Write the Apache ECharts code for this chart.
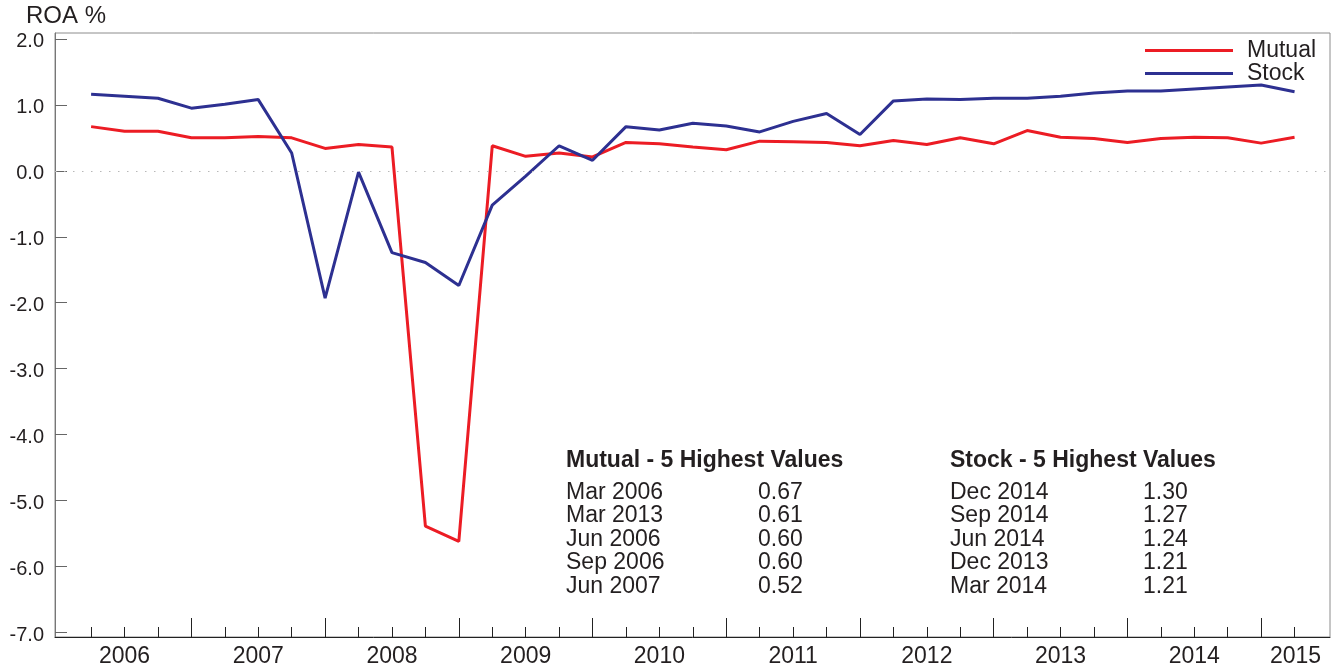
<!DOCTYPE html>
<html>
<head>
<meta charset="utf-8">
<title>ROA %</title>
<script src="https://cdn.jsdelivr.net/npm/echarts@6/dist/echarts.min.js"></script>
<style>
  html, body { margin: 0; padding: 0; background: #fff; }
  #chart { width: 1333px; height: 670px; }
</style>
</head>
<body>
<div id="chart"></div>
<script>
// Quarterly return on assets (%), Mar 2006 - Mar 2015
const months = ['Mar', 'Jun', 'Sep', 'Dec'];
const years = ['2006', '2007', '2008', '2009', '2010', '2011', '2012', '2013', '2014', '2015'];
const seriesNames = ['Mutual', 'Stock'];

const mutual = [0.67, 0.60, 0.60, 0.50, 0.50, 0.52, 0.50, 0.34, 0.40, 0.36,
  -5.39, -5.62, 0.38, 0.22, 0.27, 0.21, 0.43, 0.41, 0.36, 0.32,
  0.45, 0.44, 0.43, 0.38, 0.46, 0.40, 0.50, 0.41, 0.61, 0.51,
  0.49, 0.43, 0.49, 0.51, 0.50, 0.42, 0.51];
const stock = [1.16, 1.13, 1.10, 0.95, 1.01, 1.08, 0.27, -1.93, -0.02, -1.24,
  -1.39, -1.74, -0.52, -0.08, 0.38, 0.16, 0.67, 0.62, 0.72, 0.68,
  0.59, 0.75, 0.87, 0.55, 1.06, 1.09, 1.08, 1.10, 1.10, 1.13,
  1.18, 1.21, 1.21, 1.24, 1.27, 1.30, 1.20];
const yTicks = [-7, -6, -5, -4, -3, -2, -1, 0, 1, 2];

// quarter labels, e.g. "Mar 2006"
const quarters = mutual.map((_, i) => months[i % 4] + ' ' + (2006 + Math.floor(i / 4)));

const FONT = "'Liberation Sans', Arial, Helvetica, sans-serif";
const TEXT = '#231f20';
const X_MIN = -1.08, X_MAX = 37.06;

// every quarter gets a short tick, every December a long one
const allTicks = quarters.map((_, i) => i);
const decTicks = allTicks.filter(i => i % 4 === 3);

// year labels sit in the middle of the visible part of each year
const yearPos = years.map((y, k) => {
  const a = Math.max(-1 + 4 * k, X_MIN);
  const b = Math.min(3 + 4 * k, X_MAX);
  return (a + b) / 2;
});

function top5(values) {
  return values
    .map((v, i) => ({ q: quarters[i], v: v }))
    .sort((p, q) => q.v - p.v)
    .slice(0, 5);
}

function tableGraphics(title, values, left, valueLeft) {
  const items = [{
    type: 'text', left: left, top: 449.5,
    style: { text: title, font: 'bold 23px ' + FONT, fill: TEXT }
  }];
  top5(values).forEach((row, i) => {
    const top = 480.8 + i * 23.6;
    items.push({ type: 'text', left: left, top: top,
      style: { text: row.q, font: '23px ' + FONT, fill: TEXT } });
    items.push({ type: 'text', left: valueLeft, top: top,
      style: { text: row.v.toFixed(2), font: '23px ' + FONT, fill: TEXT } });
  });
  return items;
}

const chart = echarts.init(document.getElementById('chart'), null, { renderer: 'canvas' });

chart.setOption({
  animation: false,
  backgroundColor: '#fff',
  textStyle: { fontFamily: FONT },
  grid: {
    left: 55, right: 3, top: 33, bottom: 33,
    show: true, borderColor: '#8c8c8c', borderWidth: 1
  },
  legend: {
    data: seriesNames,
    orient: 'vertical',
    left: 1145, top: 39,
    padding: 0,
    itemGap: 0,
    itemWidth: 88, itemHeight: 3,
    icon: 'rect',
    textStyle: { fontSize: 23, color: TEXT, lineHeight: 16, padding: [7, 0, 0, 9] }
  },
  xAxis: [{
    type: 'value', min: X_MIN, max: X_MAX, position: 'bottom',
    axisLine: { show: true, onZero: false, lineStyle: { color: '#222', width: 1 } },
    axisTick: { show: true, inside: true, length: 10, customValues: allTicks,
      lineStyle: { color: '#222', width: 1 } },
    axisLabel: {
      show: true, customValues: yearPos, margin: 8,
      fontSize: 23, color: TEXT, fontFamily: FONT,
      formatter: v => {
        const k = yearPos.findIndex(p => Math.abs(p - v) < 1e-6);
        return k >= 0 ? years[k] : '';
      }
    },
    splitLine: { show: false }
  }, {
    type: 'value', min: X_MIN, max: X_MAX, position: 'bottom',
    axisLine: { show: false, onZero: false },
    axisTick: { show: true, inside: true, length: 19, customValues: decTicks,
      lineStyle: { color: '#222', width: 1 } },
    axisLabel: { show: false },
    splitLine: { show: false }
  }],
  yAxis: {
    type: 'value', min: -7.07, max: 2.09,
    axisLine: { show: true, onZero: false, lineStyle: { color: '#777', width: 1 } },
    axisTick: { show: true, inside: true, length: 12, customValues: yTicks,
      lineStyle: { color: '#666', width: 1 } },
    axisLabel: {
      customValues: yTicks, margin: 11,
      fontSize: 20, color: TEXT, fontFamily: FONT,
      formatter: v => '{v|' + v.toFixed(1) + '}',
      rich: { v: { fontSize: 20, color: TEXT, fontFamily: FONT, padding: [6, 0, 0, 0] } }
    },
    splitLine: { show: false }
  },
  title: {
    text: 'ROA %', left: 26, top: 4, padding: 0,
    textStyle: { fontSize: 24, fontWeight: 'normal', color: TEXT, fontFamily: FONT }
  },
  series: [{
    name: seriesNames[0], type: 'line',
    data: mutual.map((v, i) => [i, v]),
    showSymbol: false, symbol: 'none',
    color: '#ec1c24',
    lineStyle: { color: '#ec1c24', width: 3 },
    markLine: {
      silent: true, symbol: ['none', 'none'],
      label: { show: false },
      lineStyle: { color: '#b8b8b8', type: [1.5, 7.5], width: 1 },
      data: [{ yAxis: 0 }]
    },
    z: 2
  }, {
    name: seriesNames[1], type: 'line',
    data: stock.map((v, i) => [i, v]),
    showSymbol: false, symbol: 'none',
    color: '#2d3091',
    lineStyle: { color: '#2d3091', width: 3 },
    z: 3
  }],
  graphic: tableGraphics('Mutual - 5 Highest Values', mutual, 566, 758)
    .concat(tableGraphics('Stock - 5 Highest Values', stock, 950, 1143))
});
</script>
</body>
</html>
